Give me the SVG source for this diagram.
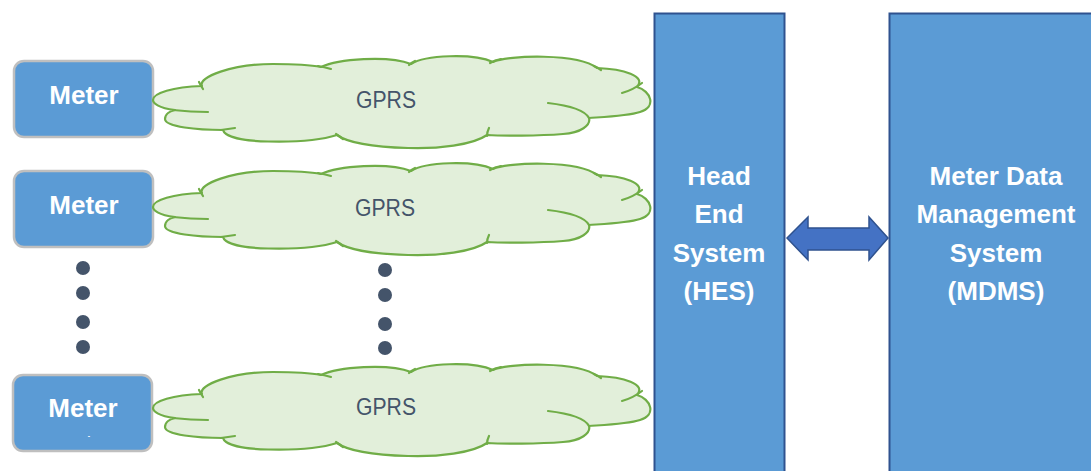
<svg xmlns="http://www.w3.org/2000/svg" width="1091" height="471" viewBox="0 0 1091 471">
<style>
.meter{fill:#5B9BD5;stroke:#BFBFBF;stroke-width:2.5}
.sys{fill:#5B9BD5;stroke:#2F528F;stroke-width:2}
.bt{font-family:"Liberation Sans",Arial,sans-serif;font-weight:bold;font-size:26px;fill:#FFFFFF;text-anchor:middle}
.gt{font-family:"Liberation Sans",Arial,sans-serif;font-size:24px;fill:#44546A;text-anchor:middle}
.cl{fill:#E2EFDA;stroke:#70AD47;stroke-width:2.2;stroke-linejoin:round}
.tl{fill:none;stroke:#70AD47;stroke-width:2.2;stroke-linecap:round}
.dot{fill:#44546A}
</style>
<defs>
<g id="cloud">
<path class="cl" d="M22,55 C5,53 0,48 0,45 C0,38 20,32 49,31 C44,22 80,9 120,9 C140,9 158,10 168,12 C185,4 235,0 258,9 C272,0 320,-2 340,7 C355,0 425,-2 444,13 C470,14 494,21 484,32 C498,36 504,52 487,57 C475,61 450,62 436,63 C438,70 428,78 410,79 C385,81 350,81 334,80 C320,90 285,94 255,93 C220,92 195,88 184,80 C165,86 135,87 115,86.5 C90,86 72,82 70,75 C45,75 12,72 12,64 C12,59 17,56 22,55 Z"/>
<path class="tl" d="M20,55 Q38,57 55,57"/>
<path class="tl" d="M46,27 Q48,31 50,34"/>
<path class="tl" d="M165,11 Q171,12 178,14"/>
<path class="tl" d="M256,10 Q258,8 262,6"/>
<path class="tl" d="M337,8 Q342,5 348,4"/>
<path class="tl" d="M441,11 Q444,12 448,15"/>
<path class="tl" d="M489,28 Q480,35 469,38"/>
<path class="tl" d="M436,63 Q430,52 395,48"/>
<path class="tl" d="M334,81 Q334,77 336,73"/>
<path class="tl" d="M183,79 Q186,81 190,84"/>
<path class="tl" d="M68,75 Q75,74 82,73"/>
</g>
</defs>
<g id="meter1">
<rect class="meter" x="14" y="61" width="139" height="76" rx="10"/>
<text class="bt" x="84" y="104">Meter</text>
</g>
<g id="meter2">
<rect class="meter" x="14" y="171" width="139" height="76" rx="10"/>
<text class="bt" x="84" y="214">Meter</text>
</g>
<g id="meter3">
<rect class="meter" x="13" y="375" width="139" height="76" rx="10"/>
<text class="bt" x="83" y="417">Meter</text>
<text x="89" y="438" font-family="Liberation Sans, Arial, sans-serif" font-size="7" font-weight="bold" fill="#FFFFFF" text-anchor="middle">-</text>
</g>
<g id="cloud1">
<use href="#cloud" x="153" y="55"/>
<text class="gt" x="386" y="108" textLength="60" lengthAdjust="spacingAndGlyphs">GPRS</text>
</g>
<g id="cloud2">
<use href="#cloud" x="153" y="162"/>
<text class="gt" x="385" y="216" textLength="60" lengthAdjust="spacingAndGlyphs">GPRS</text>
</g>
<g id="cloud3">
<use href="#cloud" x="153" y="363"/>
<text class="gt" x="386" y="415" textLength="60" lengthAdjust="spacingAndGlyphs">GPRS</text>
</g>
<g id="dots-left">
<circle class="dot" cx="83" cy="268" r="7"/>
<circle class="dot" cx="83" cy="293" r="7"/>
<circle class="dot" cx="83" cy="322" r="7"/>
<circle class="dot" cx="83" cy="347" r="7"/>
</g>
<g id="dots-mid">
<circle class="dot" cx="385" cy="270" r="7"/>
<circle class="dot" cx="385" cy="295" r="7"/>
<circle class="dot" cx="385" cy="324" r="7"/>
<circle class="dot" cx="385" cy="348" r="7"/>
</g>
<g id="hes">
<rect class="sys" x="654.5" y="13.5" width="130" height="470"/>
<text class="bt" x="719" y="185">Head</text>
<text class="bt" x="719" y="223">End</text>
<text class="bt" x="719" y="262">System</text>
<text class="bt" x="719" y="300">(HES)</text>
</g>
<g id="mdms">
<rect class="sys" x="889.5" y="13.5" width="220" height="470"/>
<text class="bt" x="996" y="185">Meter Data</text>
<text class="bt" x="996" y="223">Management</text>
<text class="bt" x="996" y="262">System</text>
<text class="bt" x="996" y="300">(MDMS)</text>
</g>
<g id="connectors">
<path d="M787,238 L808,217 L808,228 L869,228 L869,217 L888,238 L869,260 L869,250 L808,250 L808,260 Z" fill="#4472C4" stroke="#2F528F" stroke-width="1.5" stroke-linejoin="miter"/>
</g>
</svg>
